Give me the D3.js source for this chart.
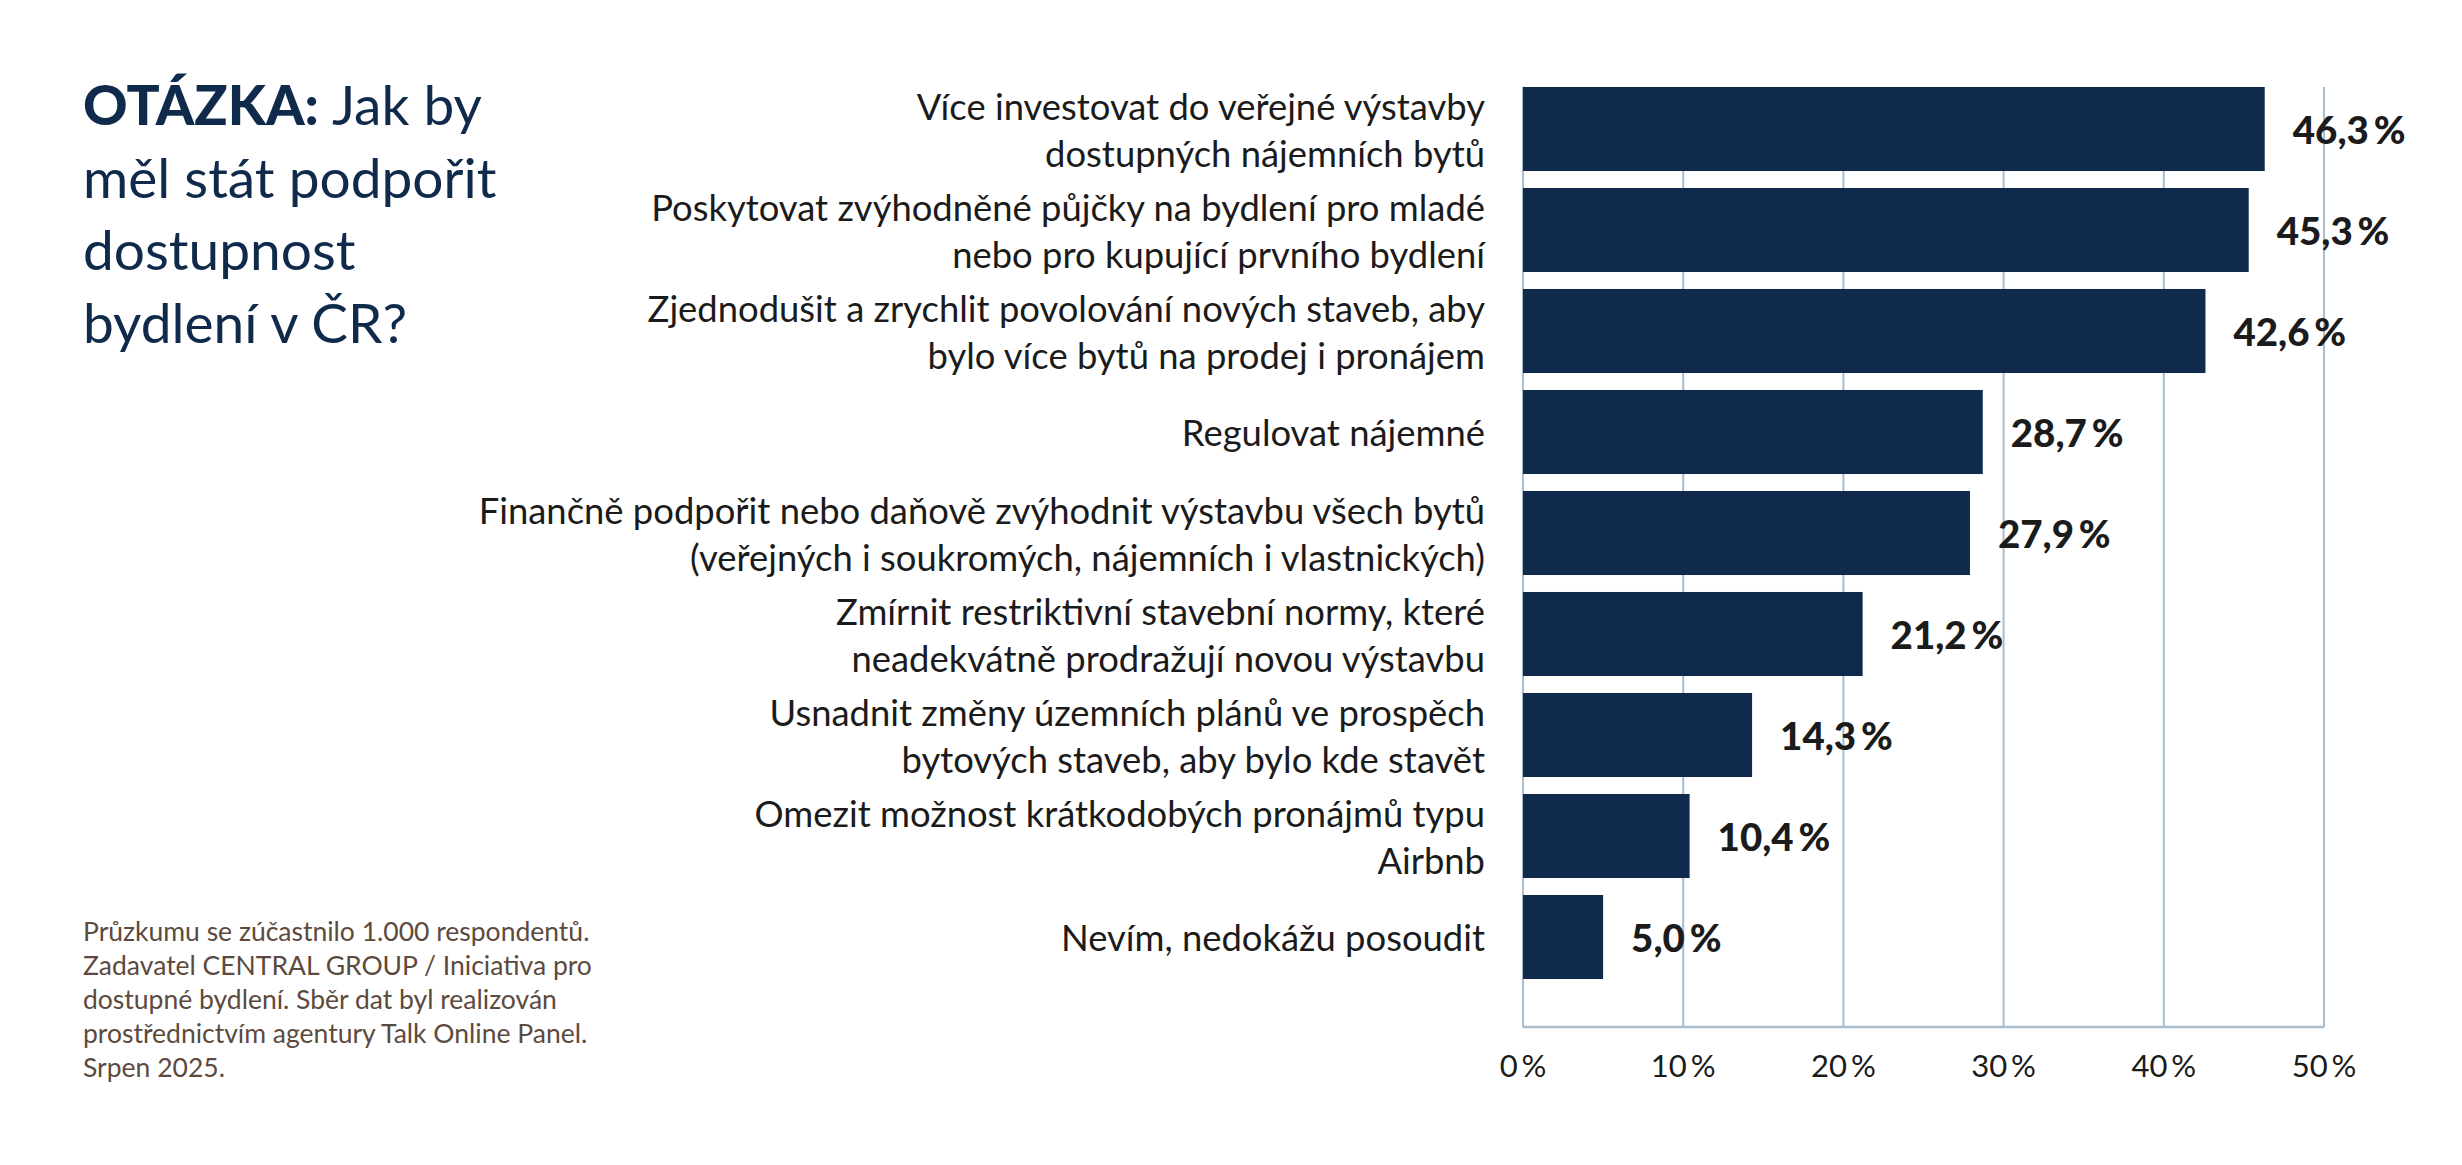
<!DOCTYPE html>
<html>
<head>
<meta charset="utf-8">
<script src="https://cdn.jsdelivr.net/npm/d3@7"></script>
<style>
  body { margin: 0; background: #fff; }
  svg { display: block; }
</style>
</head>
<body>
<div id="chart"></div>
<script>
var categories = [
    ['Více investovat do veřejné výstavby', 'dostupných nájemních bytů'],
    ['Poskytovat zvýhodněné půjčky na bydlení pro mladé', 'nebo pro kupující prvního bydlení'],
    ['Zjednodušit a zrychlit povolování nových staveb, aby', 'bylo více bytů na prodej i pronájem'],
    ['Regulovat nájemné'],
    ['Finančně podpořit nebo daňově zvýhodnit výstavbu všech bytů', '(veřejných i soukromých, nájemních i vlastnických)'],
    ['Zmírnit restriktivní stavební normy, které', 'neadekvátně prodražují novou výstavbu'],
    ['Usnadnit změny územních plánů ve prospěch', 'bytových staveb, aby bylo kde stavět'],
    ['Omezit možnost krátkodobých pronájmů typu', 'Airbnb'],
    ['Nevím, nedokážu posoudit']
];
var values = [46.3, 45.3, 42.6, 28.7, 27.9, 21.2, 14.3, 10.4, 5.0];
var ticks = [0, 10, 20, 30, 40, 50];
var titleLines = ['Jak by', 'měl stát podpořit', 'dostupnost', 'bydlení v ČR?'];
var noteLines = [
    'Průzkumu se zúčastnilo 1.000 respondentů.',
    'Zadavatel CENTRAL GROUP / Iniciativa pro',
    'dostupné bydlení. Sběr dat byl realizován',
    'prostřednictvím agentury Talk Online Panel.',
    'Srpen 2025.'
];

var W = 2462, H = 1165;
var font = 'Lato, "Noto Sans", sans-serif';
var navy = '#0f2a4a', grid = '#a9bdcc';

var svg = d3.select('#chart').append('svg').attr('width', W).attr('height', H);
svg.append('rect').attr('width', W).attr('height', H).attr('fill', '#fff');

var idx = d3.range(values.length);
var x = d3.scaleLinear().domain([0, 50]).range([1523, 2324]);
var y = d3.scaleBand().domain(idx).range([78.5, 987.5]).paddingInner(0.168).paddingOuter(0.084);
var plotTop = y(0), plotBottom = 1027;

// grid
svg.append('g').selectAll('line').data(ticks).enter().append('line')
    .attr('x1', function (d) { return x(d); })
    .attr('x2', function (d) { return x(d); })
    .attr('y1', plotTop).attr('y2', plotBottom)
    .attr('stroke', grid).attr('stroke-width', 2);
svg.append('line')
    .attr('x1', x(0)).attr('x2', x(50))
    .attr('y1', plotBottom).attr('y2', plotBottom)
    .attr('stroke', grid).attr('stroke-width', 2.5);

// bars
svg.append('g').selectAll('rect').data(values).enter().append('rect')
    .attr('x', x(0))
    .attr('y', function (d, i) { return y(i); })
    .attr('width', function (d) { return x(d) - x(0); })
    .attr('height', y.bandwidth())
    .attr('fill', navy);

// value labels
svg.append('g').selectAll('text').data(values).enter().append('text')
    .attr('x', function (d) { return x(d) + 28; })
    .attr('y', function (d, i) { return y(i) + y.bandwidth() / 2; })
    .attr('dominant-baseline', 'central')
    .attr('font-family', font).attr('font-weight', 900).attr('font-size', 38.5)
    .attr('fill', '#1b1b1b')
    .text(function (d) { return d.toFixed(1).replace('.', ',') + '\u2009%'; });

// category labels
var cat = svg.append('g').selectAll('text').data(categories).enter().append('text')
    .attr('text-anchor', 'end')
    .attr('font-family', font).attr('font-size', 36.4)
    .attr('fill', '#1b1b1b');
cat.each(function (lines, i) {
    var c = y(i) + y.bandwidth() / 2;
    var off = (lines.length - 1) * 23.5;
    d3.select(this).selectAll('tspan').data(lines).enter().append('tspan')
        .attr('x', 1485)
        .attr('y', function (l, j) { return c - off + j * 47; })
        .attr('dominant-baseline', 'central')
        .text(function (l) { return l; });
});

// x axis tick labels
svg.append('g').selectAll('text').data(ticks).enter().append('text')
    .attr('x', function (d) { return x(d); })
    .attr('y', 1077)
    .attr('text-anchor', 'middle')
    .attr('font-family', font).attr('font-size', 31)
    .attr('fill', '#1b1b1b')
    .text(function (d) { return d + '\u2009%'; });

// title
var title = svg.append('text').attr('font-family', font).attr('font-size', 55).attr('fill', navy);
titleLines.forEach(function (l, i) {
    var t = title.append('tspan').attr('x', 83).attr('y', 125 + i * 72.5);
    if (i === 0) {
        t.append('tspan').attr('font-weight', 900).text('OTÁZKA: ');
        t.append('tspan').text(l);
    } else {
        t.text(l);
    }
});

// note
svg.append('g').selectAll('text').data(noteLines).enter().append('text')
    .attr('x', 83)
    .attr('y', function (d, i) { return 941 + i * 34; })
    .attr('font-family', font).attr('font-size', 26.5)
    .attr('fill', '#5c4a3e')
    .text(function (d) { return d; });
</script>
</body>
</html>
